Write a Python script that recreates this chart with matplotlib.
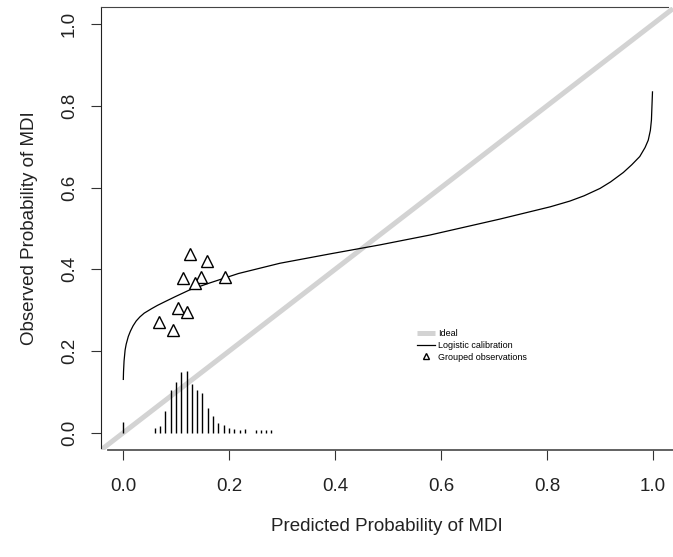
import matplotlib
matplotlib.use('Agg')
import matplotlib.pyplot as plt

# logistic calibration curve
cal_x = [0.0006, 0.001, 0.002, 0.004, 0.006, 0.010, 0.014, 0.019, 0.025, 0.032,
         0.040, 0.054, 0.065, 0.079, 0.098, 0.126, 0.164, 0.218, 0.296, 0.391,
         0.485, 0.579, 0.711, 0.806, 0.843, 0.870, 0.900, 0.920, 0.944, 0.960,
         0.975, 0.985, 0.991, 0.995, 0.997, 0.999]
cal_y = [0.131, 0.150, 0.176, 0.203, 0.217, 0.236, 0.249, 0.262, 0.274, 0.284,
         0.293, 0.304, 0.312, 0.321, 0.333, 0.350, 0.367, 0.390, 0.415, 0.438,
         0.460, 0.484, 0.523, 0.553, 0.567, 0.580, 0.598, 0.614, 0.637, 0.656,
         0.676, 0.698, 0.716, 0.740, 0.765, 0.834]

# grouped observations
grp_x = [0.126, 0.159, 0.113, 0.147, 0.192, 0.136, 0.104, 0.121, 0.067, 0.095]
grp_y = [0.438, 0.421, 0.378, 0.381, 0.381, 0.366, 0.305, 0.297, 0.272, 0.253]

# spike histogram of the predicted probabilities
spike_x = [0.00, 0.06, 0.07, 0.08, 0.09, 0.10, 0.11, 0.12, 0.13, 0.14, 0.15, 0.16,
           0.17, 0.18, 0.19, 0.20, 0.21, 0.22, 0.23, 0.25, 0.26, 0.27, 0.28]
spike_h = [0.028, 0.012, 0.016, 0.053, 0.105, 0.125, 0.150, 0.152, 0.120, 0.106,
           0.097, 0.060, 0.042, 0.024, 0.020, 0.012, 0.010, 0.008, 0.010, 0.007,
           0.007, 0.007, 0.007]

ticks = [0.0, 0.2, 0.4, 0.6, 0.8, 1.0]
tick_labels = ['0.0', '0.2', '0.4', '0.6', '0.8', '1.0']

plt.rcParams['font.family'] = ['Liberation Sans', 'DejaVu Sans']

fig = plt.figure(figsize=(6.73, 5.57), dpi=100)
ax = fig.add_axes([101/673, 107/557, 572/673, 443/557])

ax.axline((0, 0), slope=1, color='#d3d3d3', lw=3.6, solid_capstyle='butt',
          zorder=1, label='Ideal')
ax.plot(cal_x, cal_y, color='black', lw=0.9, zorder=3, label='Logistic calibration')
ax.plot(grp_x, grp_y, ls='none', marker='^', ms=8.5, mfc='white', mec='black',
        mew=1.0, zorder=4, label='Grouped observations')
ax.vlines(spike_x, 0, spike_h, color='black', lw=1.0, zorder=2)

ax.set_xlim(-0.0415, 1.0377)
ax.set_ylim(-0.0416, 1.0416)

ax.spines['right'].set_visible(False)
ax.spines['left'].set_color('#222222')
ax.spines['left'].set_linewidth(0.8)
ax.spines['left'].set_bounds(-0.037, 1.0416)
ax.spines['top'].set_color('#444444')
ax.spines['top'].set_linewidth(0.8)
ax.spines['top'].set_bounds(-0.0415, 1.028)
ax.spines['bottom'].set_color('#555555')
ax.spines['bottom'].set_linewidth(1.3)
ax.spines['bottom'].set_bounds(-0.028, 1.0377)

ax.set_xticks(ticks)
ax.set_xticklabels(tick_labels)
ax.set_yticks(ticks)
ax.set_yticklabels(tick_labels, rotation=90, va='center')
ax.tick_params(axis='both', direction='out', length=7.5, width=0.8,
               color='#333333', labelsize=13.5, labelcolor='#222222')
ax.tick_params(axis='x', pad=13)
ax.tick_params(axis='y', pad=9)

ax.set_xlabel('Predicted Probability of MDI', fontsize=13.5, color='#222222')
ax.set_ylabel('Observed Probability of MDI', fontsize=13.5, color='#222222')
ax.xaxis.set_label_coords(0.5, -0.153)
ax.yaxis.set_label_coords(-0.110, 0.5)

ax.legend(loc='upper left', bbox_to_anchor=(0.544, 0.283), frameon=False,
          fontsize=6.5, handlelength=2.0, handletextpad=0.4, labelspacing=0.3,
          borderpad=0, markerscale=0.5)

fig.savefig('out.png', dpi=100)
